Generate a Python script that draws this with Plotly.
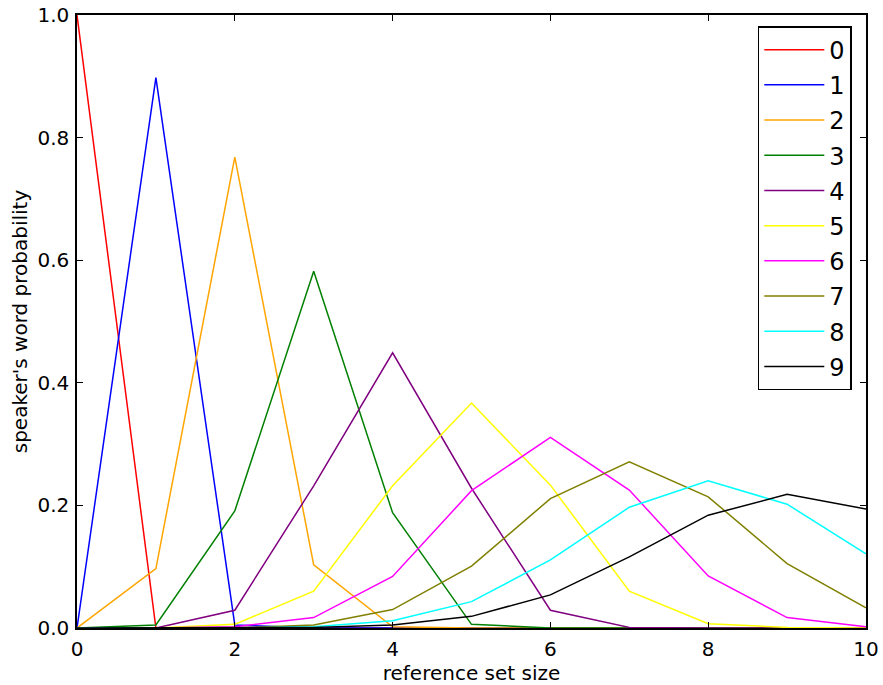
import plotly.graph_objects as go

x_vals = [0, 1, 2, 3, 4, 5, 6, 7, 8, 9, 10]
series_names = ["0", "1", "2", "3", "4", "5", "6", "7", "8", "9"]
colors = ["#FF0000", "#0000FF", "#FFA500", "#008000", "#800080",
          "#FFFF00", "#FF00FF", "#808000", "#00FFFF", "#000000"]

s0 = [1.0, 0.0, 0.0, 0.0, 0.0, 0.0, 0.0, 0.0, 0.0, 0.0, 0.0]
s1 = [0.0, 0.898, 0.005, 0.0, 0.0, 0.0, 0.0, 0.0, 0.0, 0.0, 0.0]
s2 = [0.0, 0.097, 0.768, 0.103, 0.002, 0.0, 0.0, 0.0, 0.0, 0.0, 0.0]
s3 = [0.0, 0.005, 0.191, 0.582, 0.188, 0.006, 0.0, 0.0, 0.0, 0.0, 0.0]
s4 = [0.0, 0.0, 0.029, 0.232, 0.449, 0.228, 0.029, 0.001, 0.0, 0.0, 0.0]
s5 = [0.0, 0.0, 0.006, 0.060, 0.232, 0.367, 0.233, 0.060, 0.007, 0.001, 0.0]
s6 = [0.0, 0.0, 0.002, 0.017, 0.084, 0.224, 0.311, 0.225, 0.085, 0.017, 0.002]
s7 = [0.0, 0.0, 0.0, 0.005, 0.030, 0.101, 0.211, 0.271, 0.214, 0.105, 0.033]
s8 = [0.0, 0.0, 0.0, 0.002, 0.012, 0.043, 0.111, 0.197, 0.240, 0.202, 0.121]
s9 = [0.0, 0.0, 0.0, 0.001, 0.005, 0.019, 0.054, 0.116, 0.184, 0.218, 0.194]
all_series = [s0, s1, s2, s3, s4, s5, s6, s7, s8, s9]

x_ticks = [0, 2, 4, 6, 8, 10]
y_ticks = [0.0, 0.2, 0.4, 0.6, 0.8, 1.0]
y_tick_labels = ["0.0", "0.2", "0.4", "0.6", "0.8", "1.0"]

fig = go.Figure()
for name, col, ys in zip(series_names, colors, all_series):
    fig.add_trace(go.Scatter(x=x_vals, y=ys, mode="lines", name=name,
                             legendgroup=name,
                             line=dict(color=col, width=1.5)))

axis_common = dict(showline=True, linecolor="black", linewidth=1.5, mirror="ticks",
                   ticks="inside", ticklen=6, tickcolor="black", tickwidth=1,
                   showgrid=False, zeroline=False, automargin=False,
                   tickfont=dict(size=20, color="black"))

fig.update_layout(
    width=883, height=685,
    margin=dict(l=77, r=17, t=15, b=57),
    plot_bgcolor="white", paper_bgcolor="white",
    font=dict(family="DejaVu Sans", color="black"),
    showlegend=True,
    legend=dict(x=0.982, y=0.982, xanchor="right", yanchor="top",
                bordercolor="black", borderwidth=1.5, bgcolor="white",
                font=dict(size=24), itemwidth=60, tracegroupgap=1),
    xaxis=dict(range=[0, 10], tickvals=x_ticks, ticklabelstandoff=2,
               title=dict(text="reference set size", font=dict(size=20), standoff=1),
               **axis_common),
    yaxis=dict(range=[0, 1], tickvals=y_ticks, ticktext=y_tick_labels,
               ticklabelstandoff=2,
               title=dict(text="speaker's word probability", font=dict(size=20), standoff=4),
               **axis_common),
)

fig.write_html("out.html", config={"displayModeBar": False},
               post_script="document.body.style.margin='0';document.body.style.overflow='hidden';")
